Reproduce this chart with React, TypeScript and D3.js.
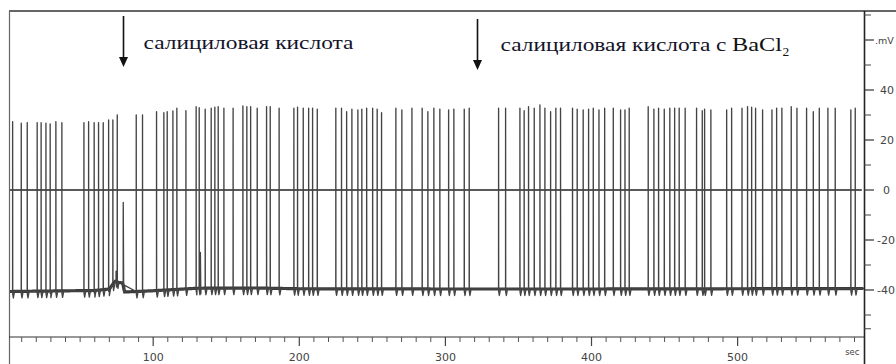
import React from "react";
import * as d3 from "d3";

const W = 896;
const H = 364;

// action potentials: time (sec) and peak (mV)
const spikeTimes = [
  3.8, 9.7, 13.8, 20.6, 23.3, 26.6, 29.5, 33.4, 37.5,
  52.6, 55.8, 59.6, 62.6, 65.8, 69.5, 72.4, 75.4,
  88.4, 92.7, 102.3, 107.3, 109.6, 113.5, 116.2, 122.4, 129.4, 131.5, 135.6, 139.7,
  142.2, 144.5, 148.4, 154.7, 161.4, 164.1, 166.7, 171.2, 177.6, 180.1, 186.2, 196.3, 198.8,
  202.7, 206.4, 209.1, 212.3,
  225.0, 228.9, 232.4, 236.0, 240.1, 242.8, 246.1, 250.2, 253.3, 256.3,
  266.1, 270.2, 277.1, 284.1, 288.0, 292.1, 296.2, 302.2, 305.8, 312.9, 316.3,
  336.4, 341.2,
  351.0, 353.9, 356.9, 360.8, 364.7, 368.1, 372.0, 375.6, 378.8, 387.0, 390.2, 394.3, 398.0,
  401.2, 405.1, 409.0, 414.9, 419.9, 422.9, 425.8,
  438.8, 442.7, 445.9, 449.8, 453.6, 456.9, 460.0, 464.1,
  471.9, 475.8, 477.4, 481.7,
  492.5, 495.9, 503.0, 506.8, 509.6, 512.3, 517.1,
  523.5, 526.7, 530.3, 536.7, 540.6, 547.2, 551.8, 555.9, 561.8, 566.8,
  577.5, 580.5,
];
const spikePeaks = [
  27.3, 26.7, 26.9, 26.9, 26.9, 26.7, 26.4, 27.3, 26.9,
  26.9, 27.3, 26.9, 26.9, 26.9, 28.0, 28.0, 30.0,
  30.0, 30.0, 31.3, 30.9, 31.3, 31.6, 32.7, 31.7, 33.3, 32.9, 32.3, 32.7,
  33.1, 33.3, 32.7, 32.7, 33.6, 33.3, 33.3, 32.7, 33.3, 33.3, 32.7, 32.7, 33.1,
  32.7, 32.7, 32.7, 32.3,
  32.7, 32.7, 31.3, 32.3, 32.0, 32.3, 32.7, 32.7, 32.3, 30.9,
  32.7, 32.0, 32.7, 32.7, 31.3, 32.7, 32.3, 32.0, 32.3, 32.3, 32.7,
  32.7, 32.7,
  32.7, 31.7, 33.3, 32.7, 34.0, 32.7, 31.3, 32.7, 32.7, 32.7, 32.3, 32.0, 32.3,
  32.7, 32.0, 32.7, 32.7, 32.0, 32.0, 32.7,
  33.3, 32.3, 32.7, 32.3, 32.7, 32.7, 32.7, 32.7,
  32.7, 31.7, 32.3, 32.0,
  32.0, 32.7, 32.7, 33.3, 33.1, 32.7, 32.0,
  32.0, 32.7, 32.7, 33.3, 32.7, 32.7, 31.3, 32.7, 32.7, 32.7,
  32.0, 32.7,
];

// abortive (small) spikes
const smallSpikeTimes = [74.6, 79.5, 132.3];
const smallSpikePeaks = [-32.5, -5, -25];

// resting potential drift
const baseTimes = [2, 30, 60, 70, 72.5, 74.0, 76.5, 79.2, 80.3, 100, 130, 170, 200, 300, 400, 500, 586.5];
const baseValues = [-40.6, -40.4, -40.2, -39.6, -37.5, -36.5, -37.0, -37.2, -40.8, -40.3, -39.3, -39.2, -39.5, -39.6, -39.6, -39.5, -39.4];

// substance application marks
const applicationTimes = [79.5, 321.4];
const applicationLabels = ["салициловая кислота", "салициловая кислота с "];

const yMajorTicks = [40, 20, 0, -20, -40];
const yMinorTicks = [70, 50, 30, 10, -10, -30, -50, -55.5];
const xMajorTicks = [100, 200, 300, 400, 500];
const xMinorTicks = d3.range(10, 590, 10).filter((t) => t % 100 !== 0);

const App: React.FC = () => {
  const x = d3.scaleLinear().domain([2, 586.5]).range([10, 864]);
  const y = d3.scaleLinear().domain([-58.8, 71.6]).range([337, 11]);
  const base = d3.scaleLinear().domain(baseTimes).range(baseValues);

  // build trace points: baseline knots + spikes with afterhyperpolarization
  const pts: [number, number][] = baseTimes.map((t, i) => [t, baseValues[i]]);
  spikeTimes.forEach((t, i) => {
    const b = base(t);
    pts.push([t - 0.02, b], [t, spikePeaks[i]], [t + 0.06, b - 1], [t + 0.5, b - 2.6], [t + 1.3, b]);
  });
  smallSpikeTimes.forEach((t, i) => {
    const b = base(t);
    pts.push([t - 0.02, b], [t, smallSpikePeaks[i]], [t + 0.3, b - 2.2], [t + 1.0, b]);
  });
  pts.sort((a, b) => a[0] - b[0]);

  const line = d3
    .line<[number, number]>()
    .x((d) => x(d[0]))
    .y((d) => y(d[1]));

  const baseLine = d3
    .line<number>()
    .x((t) => x(t))
    .y((t) => y(base(t)));

  const sans = "'DejaVu Sans', Verdana, sans-serif";
  const serif = "'Liberation Serif', 'Times New Roman', serif";

  return (
    <svg
      width={W}
      height={H}
      style={{ position: "fixed", left: 0, top: 0, background: "#fff" }}
      fontFamily={sans}
    >
      <rect width={W} height={H} fill="#fff" />

      {/* frame */}
      <line x1={9} x2={W} y1={11} y2={11} stroke="#333" strokeWidth={1.6} />
      <line x1={9.5} x2={9.5} y1={11} y2={H} stroke="#666" strokeWidth={1.2} />

      {/* zero line */}
      <line x1={x(2)} x2={x(585)} y1={y(0)} y2={y(0)} stroke="#222" strokeWidth={1.4} />

      {/* baseline thickness */}
      <path d={baseLine(d3.range(2, 586.5, 0.5)) || ""} fill="none" stroke="#3a3a3a" strokeWidth={3.2} />

      {/* trace */}
      <path
        d={line(pts) || ""}
        fill="none"
        stroke="#444"
        strokeWidth={1.35}
        strokeLinejoin="round"
      />

      {/* bottom axis */}
      <line x1={9} x2={x(586.5)} y1={337} y2={337} stroke="#333" strokeWidth={1.2} />
      {xMinorTicks.map((t) => (
        <line key={"xm" + t} x1={x(t)} x2={x(t)} y1={337} y2={342} stroke="#555" strokeWidth={1} />
      ))}
      {xMajorTicks.map((t) => (
        <g key={"xM" + t}>
          <line x1={x(t)} x2={x(t)} y1={337} y2={346} stroke="#444" strokeWidth={1.2} />
          <text x={x(t)} y={361} fontSize={11} fill="#444" textAnchor="middle">
            {t}
          </text>
        </g>
      ))}
      <text x={x(578.5)} y={355} fontSize={8.5} fill="#444" textAnchor="middle">
        sec
      </text>

      {/* right axis */}
      <line x1={864.5} x2={864.5} y1={11} y2={H} stroke="#222" strokeWidth={1.6} />
      {yMinorTicks.map((v) => (
        <line key={"ym" + v} x1={864} x2={871} y1={y(v)} y2={y(v)} stroke="#444" strokeWidth={1} />
      ))}
      <line x1={864} x2={874} y1={y(60)} y2={y(60)} stroke="#333" strokeWidth={1.2} />
      <text x={875} y={y(60) + 3.5} fontSize={9.5} fill="#444">
        .mV
      </text>
      {yMajorTicks.map((v) => (
        <g key={"yM" + v}>
          <line x1={864} x2={874} y1={y(v)} y2={y(v)} stroke="#333" strokeWidth={1.2} />
          <text x={v === 0 ? 883 : v < 0 ? 877 : 880} y={y(v) + 4} fontSize={11} fill="#444">
            {v}
          </text>
        </g>
      ))}

      {/* application arrows and labels */}
      {applicationTimes.map((t, i) => {
        const ax = Math.round(x(t)) + 0.5;
        const top = i === 0 ? 16 : 19;
        const tip = i === 0 ? 67 : 70;
        return (
          <g key={"arr" + i}>
            <line x1={ax} x2={ax} y1={top} y2={tip - 8} stroke="#111" strokeWidth={1.6} />
            <path d={`M${ax - 4.5},${tip - 10} L${ax + 4.5},${tip - 10} L${ax},${tip} Z`} fill="#111" />
            <text
              x={ax + 20 + (i === 0 ? 0 : 3)}
              y={i === 0 ? 49 : 51}
              fontFamily={serif}
              fontSize={19.5}
              fill="#14142a"
              textLength={i === 0 ? 210 : 226}
              lengthAdjust="spacingAndGlyphs"
            >
              {applicationLabels[i]}
            </text>
          </g>
        );
      })}
      <text x={732} y={51} fontFamily={serif} fontSize={19.5} fill="#111" textLength={50} lengthAdjust="spacingAndGlyphs">
        BaCl
      </text>
      <text x={782.5} y={56} fontFamily={serif} fontSize={13.5} fill="#111">
        2
      </text>
    </svg>
  );
};

export default App;
